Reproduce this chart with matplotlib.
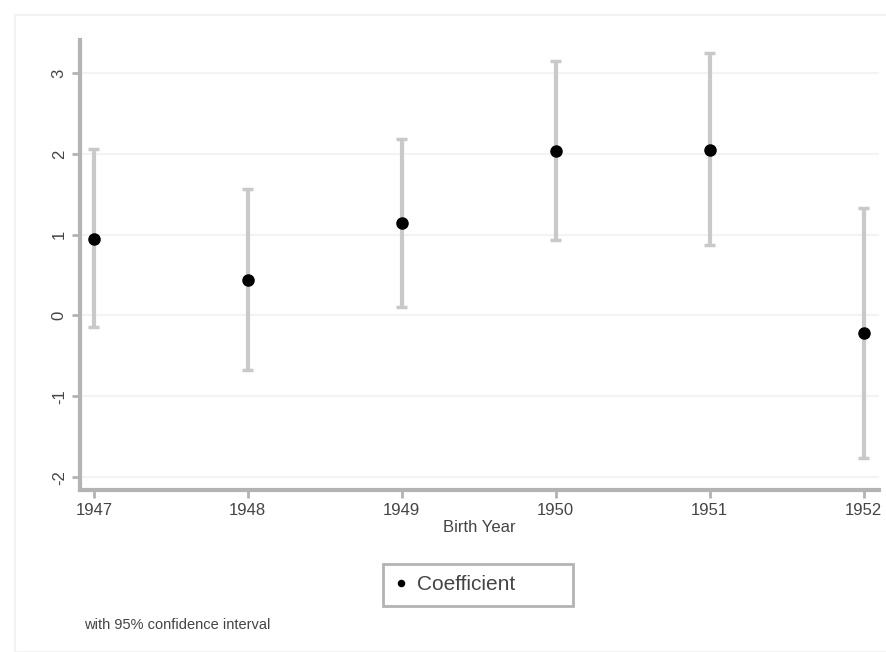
import numpy as np
import matplotlib.pyplot as plt
from matplotlib.patches import Rectangle

years = [1947, 1948, 1949, 1950, 1951, 1952]
coef = [0.95, 0.44, 1.14, 2.04, 2.05, -0.22]
ci_low = [-0.14, -0.67, 0.10, 0.94, 0.87, -1.77]
ci_high = [2.06, 1.57, 2.18, 3.15, 3.25, 1.33]
yticks = [-2, -1, 0, 1, 2, 3]

plt.rcParams["font.family"] = ["Liberation Sans", "DejaVu Sans"]

fig = plt.figure(figsize=(8.87, 6.52), dpi=100)
fig.patch.set_facecolor("white")
# faint outer frame like stata graph region
fig.patches.append(Rectangle((15 / 887, 0.0), 1.0, 1 - 15 / 652, transform=fig.transFigure,
                             fill=False, edgecolor="#f2f2f2", linewidth=1.5))

ax = fig.add_axes([80 / 887, 1 - 490 / 652, 799 / 887, 450 / 652])
ax.set_xlim(1946.91, 1952.1)
ax.set_ylim(-2.16, 3.41)

for y in yticks:
    ax.axhline(y, color="#f3f3f3", linewidth=1.5, zorder=0)

ax.vlines(years, ci_low, ci_high, color="#c9c9c9", linewidth=3, zorder=2)
ax.hlines(ci_low, np.array(years) - 0.035, np.array(years) + 0.035, color="#c9c9c9", linewidth=2.5, zorder=2)
ax.hlines(ci_high, np.array(years) - 0.035, np.array(years) + 0.035, color="#c9c9c9", linewidth=2.5, zorder=2)
ax.plot(years, coef, "o", color="black", markersize=8, zorder=3, label="Coefficient")

for s in ["top", "right"]:
    ax.spines[s].set_visible(False)
for s in ["left", "bottom"]:
    ax.spines[s].set_color("#b3b3b3")
    ax.spines[s].set_linewidth(3)

ax.set_yticks(yticks)
ax.set_yticklabels([str(v) for v in yticks], rotation=90, va="center", fontsize=12, color="#444444")
ax.set_xticks(years)
ax.set_xticklabels([str(v) for v in years], fontsize=12, color="#444444")
ax.tick_params(axis="both", color="#b3b3b3", length=6, width=2)
ax.set_xlabel("Birth Year", fontsize=12, color="#444444", labelpad=1)

leg = fig.legend(loc="center", bbox_to_anchor=(478 / 887, 1 - 585 / 652), fontsize=15,
                 frameon=True, fancybox=False, handletextpad=0.45, borderpad=0.55,
                 markerscale=0.55, handlelength=0.6, borderaxespad=0)
leg.get_frame().set_edgecolor("#a0a0a0")
leg.get_frame().set_linewidth(2)
for t in leg.get_texts():
    t.set_color("#444444")
    t.set_text("Coefficient        ")

fig.text(84 / 887, 1 - 625 / 652, "with 95% confidence interval", fontsize=10.5, color="#444444", va="center")

fig.savefig("out.png", dpi=100)
